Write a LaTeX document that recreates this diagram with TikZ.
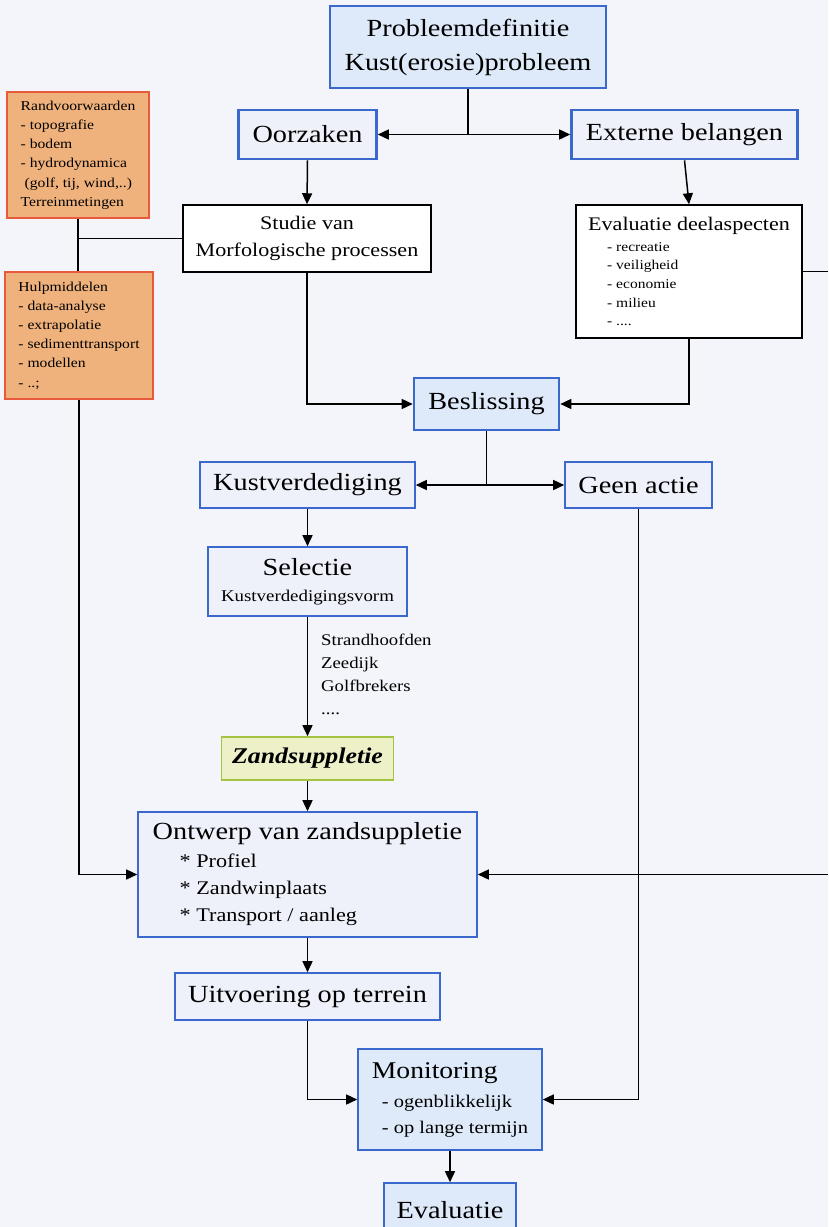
\documentclass[tikz,border=0pt]{standalone}
\usepackage{fontspec}
\setmainfont{Liberation Serif}[FakeStretch=1.15]
\usetikzlibrary{arrows.meta,calc}
\definecolor{bg}{RGB}{244,245,250}
\definecolor{bblue}{RGB}{58,104,204}
\definecolor{lblue}{RGB}{222,234,249}
\definecolor{pblue}{RGB}{238,241,250}
\definecolor{orfill}{RGB}{240,178,124}
\definecolor{ordraw}{RGB}{232,90,60}
\definecolor{gdraw}{RGB}{162,196,64}
\definecolor{gfill}{RGB}{238,241,200}
\newcommand{\fs}[2]{\fontsize{#1}{#2}\selectfont}
\begin{document}
\begin{tikzpicture}[x=1pt,y=-1pt,
  box/.style={rectangle, inner sep=0pt, text=black},
  thickblue/.style={box, draw=bblue, line width=2.6pt, fill=pblue, font=\fs{24.6}{34}},
  thinblue/.style={box, draw=bblue, line width=1.6pt, fill=pblue, font=\fs{24.6}{34}},
  blackbox/.style={box, draw=black, line width=1.5pt, fill=white, font=\fs{19.2}{27}},
  orbox/.style={box, draw=ordraw, line width=1.5pt, fill=orfill, font=\fs{13.6}{19.2}, align=left},
  greenbox/.style={box, draw=gdraw, line width=1.6pt, fill=gfill, font=\fs{22.5}{28}\bfseries\itshape},
  arr/.style={-{Triangle[length=11pt,width=10pt]}, line width=1.5pt},
  ln/.style={line width=1.5pt}
]
\useasboundingbox (0,0) rectangle (828,1227);
\fill[bg] (0,0) rectangle (828,1227);

% boxes
\node[thickblue, fill=lblue, align=center, minimum width=276pt, minimum height=82pt] (prob) at (468,47) {Probleemdefinitie\\Kust(erosie)probleem};
\node[thickblue, minimum width=138pt, minimum height=49pt] (oorz) at (307.5,134.5) {Oorzaken};
\node[thickblue, minimum width=226pt, minimum height=49pt] (ext) at (684.5,134.5) {Externe belangen};
\node[blackbox, align=center, minimum width=248pt, minimum height=67pt] (studie) at (307,238.5) {Studie van\\Morfologische processen};
\node[blackbox, align=left, font=\fs{13.5}{18.7}, minimum width=226pt, minimum height=133pt] (evald) at (689,271.5)
  {{\fs{19.2}{21}Evaluatie deelaspecten}\\[2.3pt]
   \hspace*{19pt}- recreatie\\
   \hspace*{19pt}- veiligheid\\
   \hspace*{19pt}- economie\\
   \hspace*{19pt}- milieu\\
   \hspace*{19pt}- ....};
\node[orbox, minimum width=142pt, minimum height=126pt] (rand) at (78,155)
  {Randvoorwaarden\\- topografie\\- bodem\\- hydrodynamica\\\hspace*{4pt}(golf, tij, wind,..)\\Terreinmetingen};
\node[orbox, minimum width=148pt, minimum height=127pt] (hulp) at (79,335.5)
  {Hulpmiddelen\\- data-analyse\\- extrapolatie\\- sedimenttransport\\- modellen\\- ..;};
\node[thickblue, fill=lblue, minimum width=145pt, minimum height=52pt] (besl) at (486.5,404) {Beslissing};
\node[thinblue, minimum width=215pt, minimum height=46pt] (kust) at (307.5,485) {Kustverdediging};
\node[thinblue, minimum width=147pt, minimum height=46pt] (geen) at (638.5,485) {Geen actie};
\node[thinblue, align=center, font=\fs{16.4}{26}, minimum width=199pt, minimum height=69pt] (sel) at (307.5,581.5)
  {{\fs{24.6}{26}Selectie}\\Kustverdedigingsvorm};
\node[box, anchor=north west, align=left, font=\fs{16.3}{23}] (list) at (321,633.5)
  {Strandhoofden\\Zeedijk\\Golfbrekers\\....};
\node[greenbox, minimum width=172pt, minimum height=43pt] (zand) at (307.5,758.5) {Zandsuppletie};
\node[thinblue, align=left, font=\fs{19.3}{27}, minimum width=339pt, minimum height=125pt] (ontw) at (307.5,874.5)
  {{\fs{24.6}{27}Ontwerp van zandsuppletie}\\[1pt]
   \hspace*{27pt}* Profiel\\
   \hspace*{27pt}* Zandwinplaats\\
   \hspace*{27pt}* Transport / aanleg};
\node[thinblue, minimum width=265pt, minimum height=47pt] (uitv) at (307.5,996.5) {Uitvoering op terrein};
\node[thinblue, fill=lblue, align=left, font=\fs{17.8}{26}, minimum width=184pt, minimum height=101pt] (mon) at (450,1099.5)
  {{\fs{24}{26}Monitoring}\\[3pt]
   \hspace*{10pt}- ogenblikkelijk\\
   \hspace*{10pt}- op lange termijn};
\node[thinblue, fill=lblue, minimum width=132pt, minimum height=54pt] (eva) at (450,1210) {Evaluatie};

% free ends at the picture edge
\coordinate (r1) at (828,271.5);
\coordinate (r2) at (828,874.5);
\coordinate (j1) at (prob.south |- oorz.east);
\coordinate (j2) at (besl.south |- kust.east);

% connectors
\draw[ln] (prob.south) -- (j1);
\draw[arr] (j1) -- (oorz.east);
\draw[arr] (j1) -- (ext.west);
\draw[arr] (oorz.south) -- (studie.north);
\draw[arr] (ext.south) -- (evald.north);
\draw[ln] (rand.south) -- (rand.south |- hulp.north);
\draw[ln] (rand.south |- studie.west) -- (studie.west);
\draw[arr] (hulp.south) |- (ontw.west);
\draw[arr] (studie.south) |- (besl.west);
\draw[arr] (evald.south) |- (besl.east);
\draw[ln] (evald.east) -- (r1);
\draw[ln] (besl.south) -- (j2);
\draw[arr] (j2) -- (kust.east);
\draw[arr] (j2) -- (geen.west);
\draw[arr] (kust.south) -- (sel.north);
\draw[arr] (sel.south) -- (zand.north);
\draw[arr] (zand.south) -- (ontw.north);
\draw[arr] (r2) -- (ontw.east);
\draw[arr] (geen.south) |- (mon.east);
\draw[arr] (ontw.south) -- (uitv.north);
\draw[arr] (uitv.south) |- (mon.west);
\draw[arr] (mon.south) -- (eva.north);
\end{tikzpicture}
\end{document}
